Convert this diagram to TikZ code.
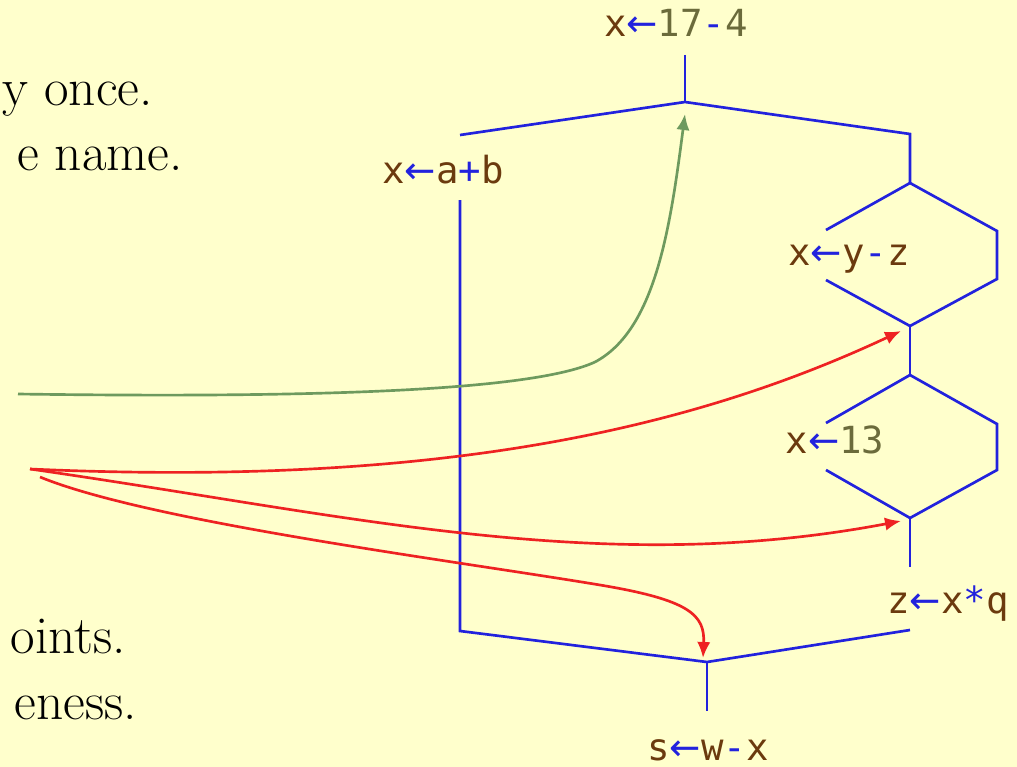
\documentclass[tikz,border=0pt]{standalone}
\usepackage{fontspec}
\newfontfamily\codefont{DejaVu Sans Mono}
\newfontfamily\arrfont{DejaVu Sans}
\usetikzlibrary{arrows.meta}
\definecolor{bg}{HTML}{FFFFCC}
\definecolor{ln}{HTML}{2222DD}
\definecolor{rd}{HTML}{EE2222}
\definecolor{gr}{HTML}{6E9A5E}
\definecolor{vr}{HTML}{6B3A0E}
\definecolor{nm}{HTML}{6B6B3B}
\newcommand\V[1]{\textcolor{vr}{#1}}
\newcommand\N[1]{\textcolor{nm}{#1}}
\newcommand\Op[1]{\textcolor{ln}{#1}}
\newcommand\asg{\textcolor{ln}{\arrfont ←}}
\begin{document}
\begin{tikzpicture}[x=0.75pt,y=-0.75pt,
  code/.style={font=\codefont\fontsize{28}{34}\selectfont, inner sep=0pt, anchor=base},
  prose/.style={font=\fontsize{40}{48}\selectfont, inner sep=0pt, anchor=base east},
  wire/.style={draw=ln, line width=2pt},
  redarrow/.style={draw=rd, line width=2pt, -{Latex[length=12pt,width=10pt]}},
  greenarrow/.style={draw=gr, line width=2pt, -{Latex[length=12pt,width=10pt]}}]
\fill[bg] (0,0) rectangle (1017,767);
\useasboundingbox (0,0) rectangle (1017,767);
\clip (0,0) rectangle (1017,767);
% prose fragments
\node[prose] (p1) at (153,105) {y once.};
\node[prose] (p2) at (183,170) {e name.};
\node[prose] (p3) at (126,653) {oints.};
\node[prose] (p4) at (137,719) {eness.};
% code labels
\node[code] (top) at (676,37) {\V{x}\asg\N{17}\Op{-}\N{4}};
\node[code] (lab) at (443,183) {\V{x}\asg\V{a}\Op{+}\V{b}};
\node[code] (lyz) at (849,265) {\V{x}\asg\V{y}\Op{-}\V{z}};
\node[code] (l13) at (835,453) {\V{x}\asg\N{13}};
\node[code] (lxq) at (948,613) {\V{z}\asg\V{x}\Op{*}\V{q}};
\node[code] (lwx) at (708,760) {\V{s}\asg\V{w}\Op{-}\V{x}};
% coordinates
\coordinate (t0) at (685,55);
\coordinate (j1) at (685,102);
\coordinate (l0) at (460,135);
\coordinate (r0) at (910,134);
\coordinate (l1) at (460,200);
\coordinate (l2) at (460,631);
\coordinate (r1) at (910,183);
\coordinate (d1a) at (826,230);
\coordinate (d1b) at (826,280);
\coordinate (d1c) at (997,231);
\coordinate (d1d) at (997,279);
\coordinate (r2) at (910,326);
\coordinate (r3) at (910,375);
\coordinate (d2a) at (826,423);
\coordinate (d2b) at (826,470);
\coordinate (d2c) at (997,424);
\coordinate (d2d) at (997,470);
\coordinate (r4) at (910,518);
\coordinate (r5) at (910,567);
\coordinate (r6) at (910,630);
\coordinate (jb) at (707,662);
\coordinate (b0) at (707,711);
% blue flow lines
\draw[wire] (t0) -- (j1);
\draw[wire] (l0) -- (j1) -- (r0) -- (r1);
\draw[wire] (l1) -- (l2) -- (jb) -- (r6);
\draw[wire] (jb) -- (b0);
\draw[wire] (d1a) -- (r1) -- (d1c) -- (d1d) -- (r2) -- (d1b);
\draw[wire] (r2) -- (r3);
\draw[wire] (d2a) -- (r3) -- (d2c) -- (d2d) -- (r4) -- (d2b);
\draw[wire] (r4) -- (r5);
% arrow endpoints
\coordinate (gs) at (18,394);
\coordinate (gm) at (595,362);
\coordinate (ge) at (685,114);
\coordinate (rs1) at (30,469);
\coordinate (rs2) at (40,477);
\coordinate (re1) at (901,331);
\coordinate (re2) at (901,521);
\coordinate (rm3) at (600,585);
\coordinate (re3) at (703,658);
% green arrow
\draw[greenarrow] (gs) .. controls (300,398) and (530,392) .. (gm)
  .. controls (655,330) and (670,230) .. (ge);
% red arrows
\draw[redarrow] (rs1) .. controls (450,488) and (700,425) .. (re1);
\draw[redarrow] (rs1) .. controls (350,515) and (600,578) .. (re2);
\draw[redarrow] (rs2) .. controls (150,522) and (450,560) .. (rm3)
  .. controls (690,600) and (705,615) .. (re3);
\end{tikzpicture}
\end{document}
